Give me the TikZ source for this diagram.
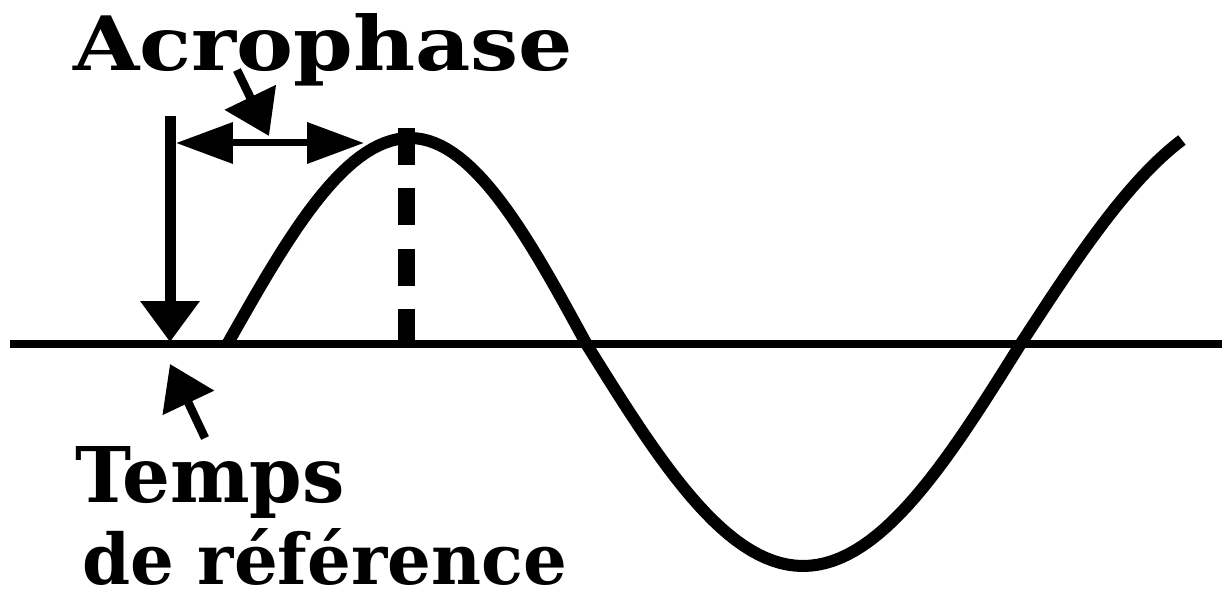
\documentclass[tikz,border=0pt]{standalone}
\usepackage{fontspec}
\usepackage{graphicx}
\setmainfont{DejaVu Serif}
\usetikzlibrary{arrows.meta}
\tikzset{
  curve/.style={line width=0.24cm, line join=round},
  axisline/.style={line width=0.16cm},
  label/.style={anchor=base west, inner sep=0pt, outer sep=0pt},
  bigdown/.style={line width=0.22cm, -{Triangle[length=0.82cm, width=1.14cm]}},
  span/.style={line width=0.14cm, {Triangle[length=1.14cm, width=0.8cm]}-{Triangle[length=1.14cm, width=0.8cm]}},
  pointer/.style={line width=0.17cm, -{Triangle[length=0.86cm, width=1.1cm]}},
  peakline/.style={line width=0.34cm, dash pattern=on 0.74cm off 0.47cm}
}
\begin{document}
\begin{tikzpicture}[x=0.02cm, y=-0.02cm]
\useasboundingbox (0,0) rectangle (1225,597);
% named points
\coordinate (axL) at (10,344);
\coordinate (axR) at (1222,344);
\coordinate (vtop) at (170,116);
\coordinate (ref) at (170,342);
\coordinate (spanL) at (176,143);
\coordinate (spanR) at (364,143);
\coordinate (peakTop) at (406,128);
\coordinate (peakBot) at (406,349);
\coordinate (acroTail) at (237,70);
\coordinate (acroTip) at (269,136);
\coordinate (refTail) at (205,438);
\coordinate (refTip) at (170,364);
% axis
\draw[axisline] (axL) -- (axR);
% wave
\draw[curve]
  plot[domain=0:1, samples=30, variable=\t] ({228+182*\t},{343-205*sin(90*\t)})
  -- plot[domain=0:1, samples=30, variable=\t] ({410+177*\t},{138+207*(1-cos(90*\t))})
  -- plot[domain=0:1, samples=30, variable=\t] ({587+216*\t},{345+221*sin(90*\t)})
  -- plot[domain=0:1, samples=30, variable=\t] ({803+217*\t},{566-221*(1-cos(90*\t))})
  -- plot[domain=0:0.675, samples=30, variable=\t] ({1020+240*\t},{345-235*sin(90*\t)});
% peak marker
\draw[peakline] (peakTop) -- (peakBot);
% reference arrow and span
\draw[bigdown] (vtop) -- (ref);
\draw[span] (spanL) -- (spanR);
\draw[pointer] (acroTail) -- (acroTip);
\draw[pointer] (refTail) -- (refTip);
% labels
\node[label] (acro) at (73,71) {\resizebox{10cm}{1.14cm}{\bfseries Acrophase}};
\node[label] (temps) at (75,503) {\resizebox{5.4cm}{1.12cm}{\bfseries Temps}};
\node[label] (deref) at (82,585) {\resizebox{9.7cm}{1.12cm}{\bfseries de référence}};
\end{tikzpicture}
\end{document}
